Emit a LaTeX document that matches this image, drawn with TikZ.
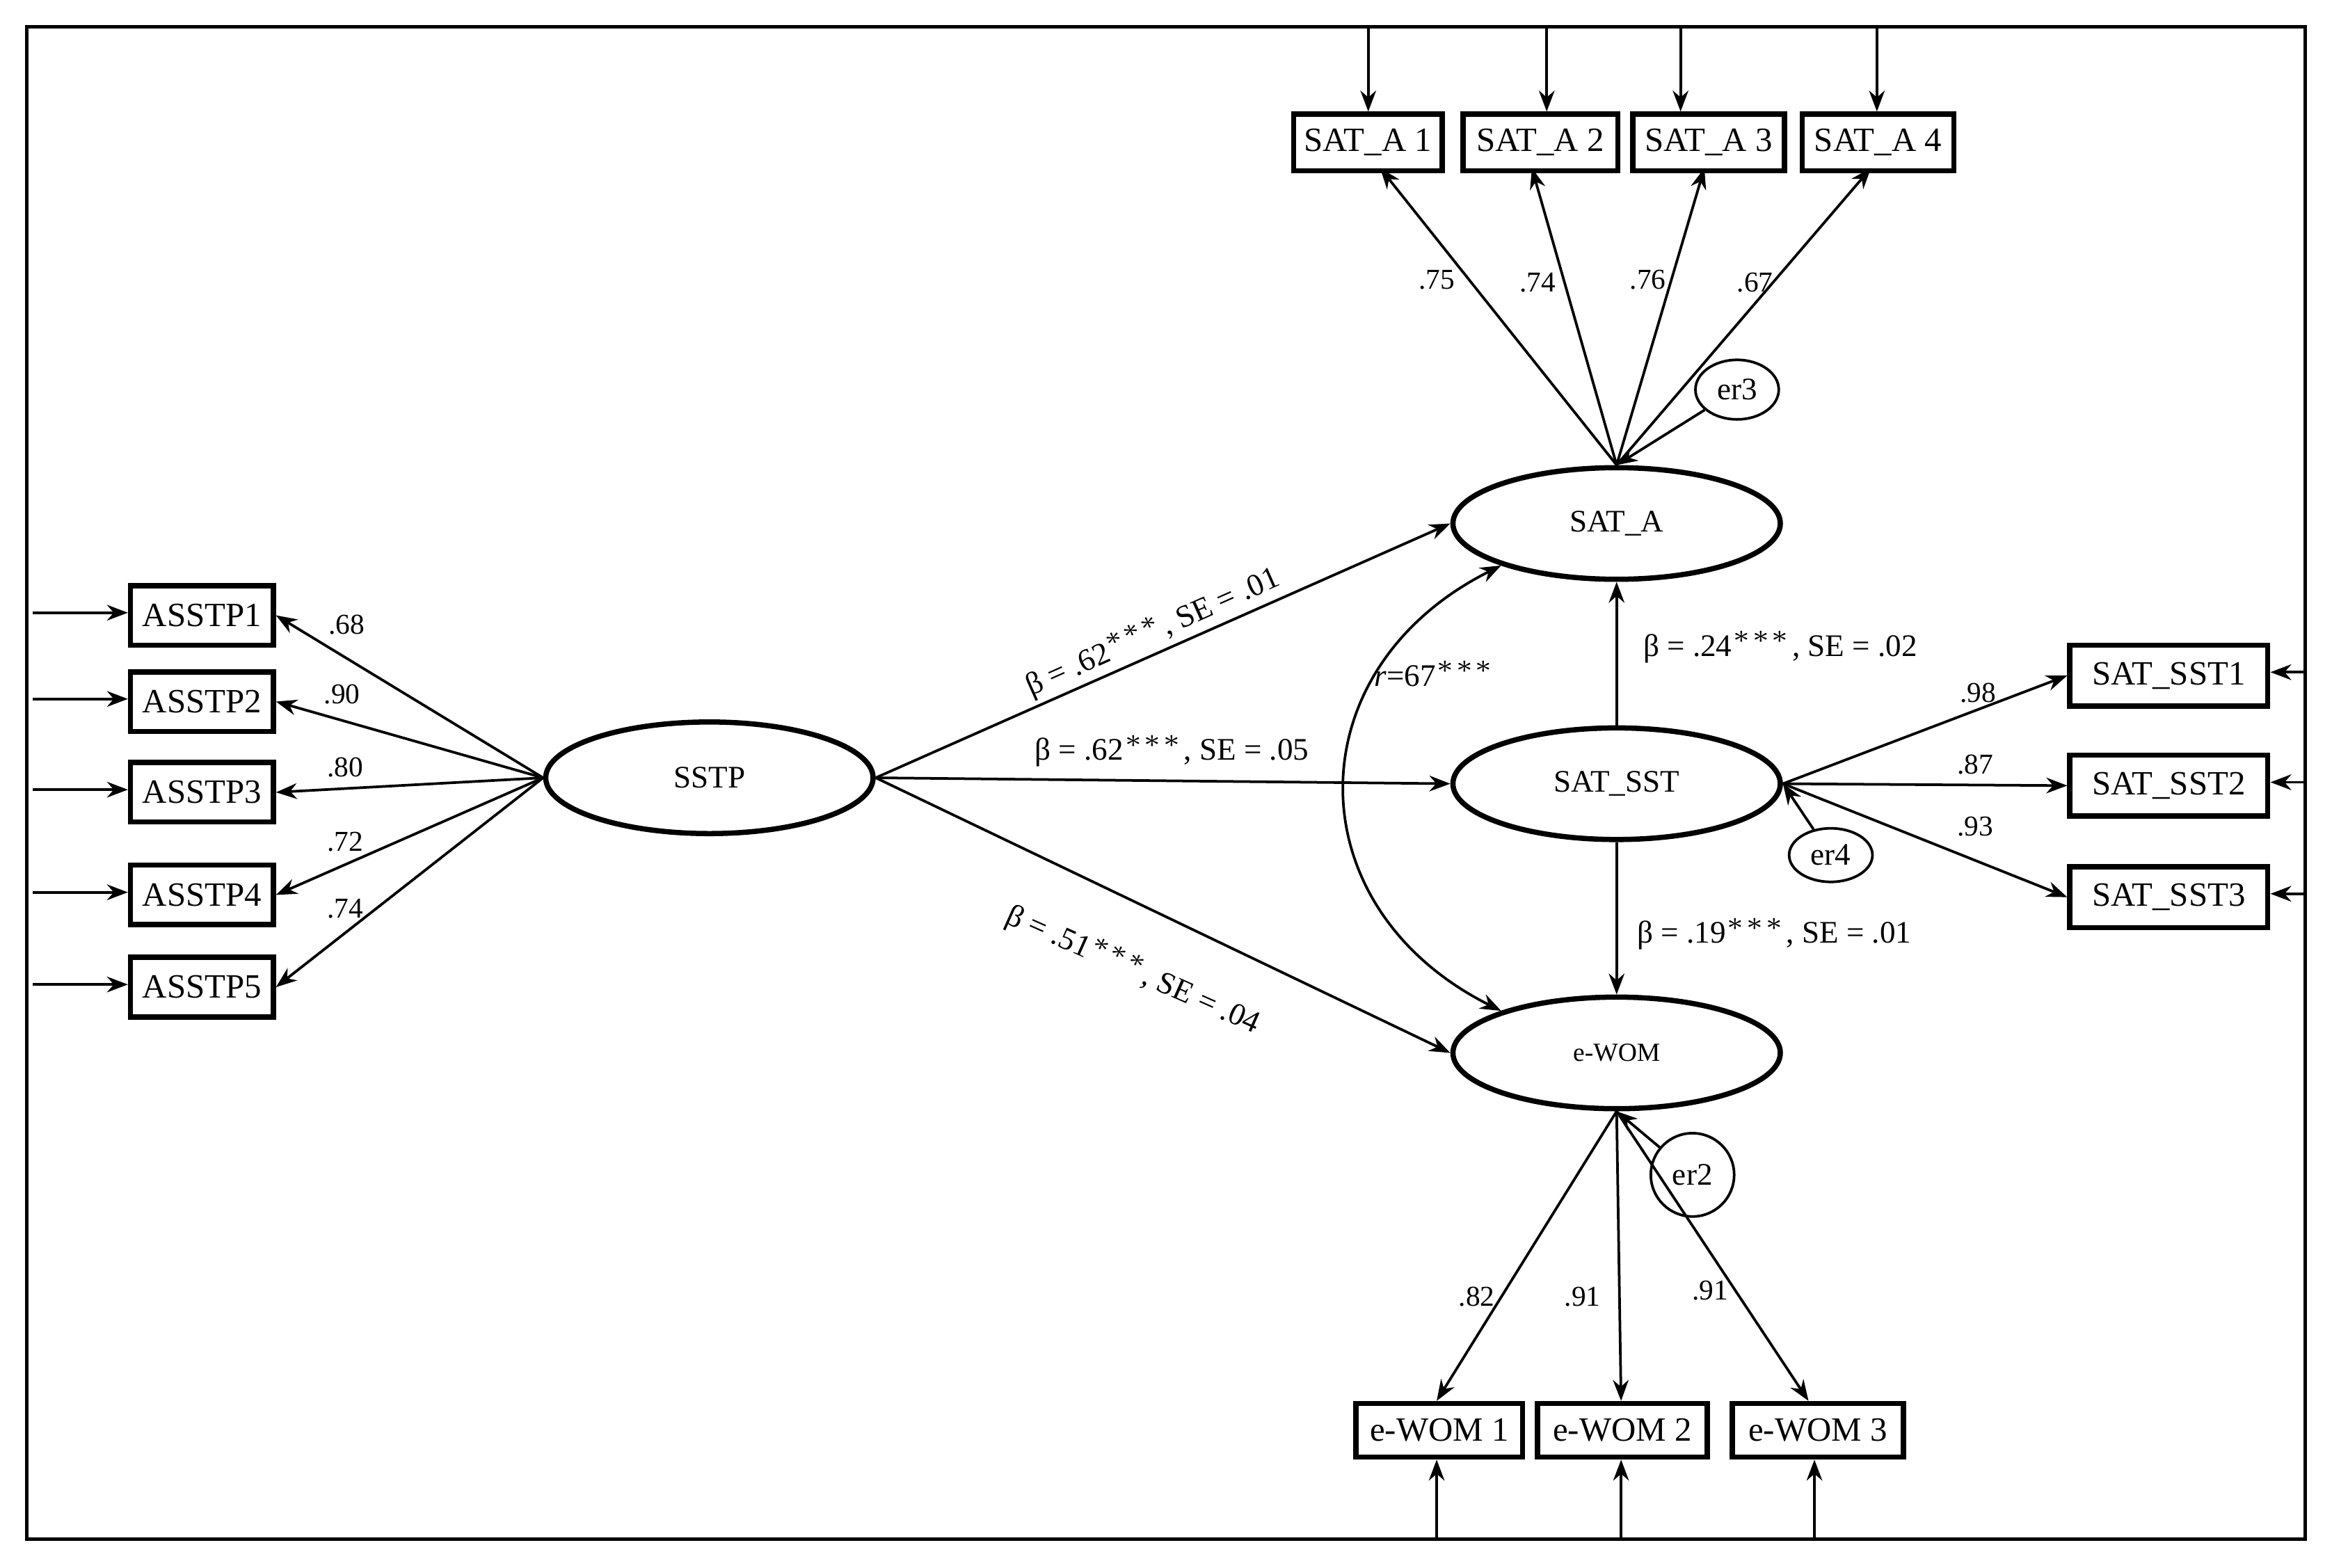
\documentclass[tikz,border=0pt]{standalone}
\usepackage{fontspec}
\setmainfont{Liberation Serif}
\usetikzlibrary{arrows.meta,shapes.geometric}
\begin{document}
\begin{tikzpicture}[x=0.01cm,y=-0.01cm,
 box/.style={draw,line width=1pt,minimum height=0.38cm,inner sep=1pt,font=\fontsize{6.5}{7}\selectfont,anchor=north west},
 lat/.style={draw,ellipse,line width=1pt,minimum width=2.2cm,minimum height=0.75cm,font=\fontsize{6}{7}\selectfont},
 err/.style={draw,ellipse,line width=0.5pt,font=\fontsize{6}{7}\selectfont,inner sep=0pt},
 ar/.style={-{Stealth[length=4pt,width=3pt]},line width=0.5pt},
 lab/.style={font=\fontsize{5.5}{6}\selectfont,inner sep=1pt}]
\useasboundingbox (0,0) rectangle (1568,1054);
\draw[line width=0.6pt] (18,18) rectangle (1550,1035);
% SAT_A boxes
\node[box,minimum width=1.0cm] (a1) at (868,75) {SAT\_A 1};
\node[box,minimum width=1.04cm] (a2) at (982,75) {SAT\_A 2};
\node[box,minimum width=1.02cm] (a3) at (1096,75) {SAT\_A 3};
\node[box,minimum width=1.02cm] (a4) at (1210,75) {SAT\_A 4};
\foreach \n/\x in {a1/920,a2/1040,a3/1130,a4/1262}{\coordinate (t\n) at (\x,18); \draw[ar] (t\n) -- (t\n |- \n.north);}
% ASSTP
\foreach \i/\y in {1/392,2/450,3/511,4/580,5/642}{
 \node[box,minimum width=0.96cm,minimum height=0.4cm] (p\i) at (86,\y) {ASSTP\i};
 \coordinate (lp\i) at (22,\y+20); \draw[ar] (lp\i) -- (p\i.west |- lp\i);}
% SAT_SST boxes
\foreach \i/\y in {1/432,2/506,3/581}{
 \node[box,minimum width=1.33cm,minimum height=0.41cm] (s\i) at (1390,\y) {SAT\_SST\i};
 \coordinate (rs\i) at (1550,\y+20); \draw[ar] (rs\i) -- (s\i.east |- rs\i);}
% eWOM boxes
\node[box,minimum width=1.12cm,minimum height=0.36cm] (w1) at (910,942) {e-WOM 1};
\node[box,minimum width=1.14cm,minimum height=0.36cm] (w2) at (1032,942) {e-WOM 2};
\node[box,minimum width=1.15cm,minimum height=0.36cm] (w3) at (1163,942) {e-WOM 3};
\foreach \n/\x in {w1/966,w2/1090,w3/1220}{\coordinate (b\n) at (\x,1035); \draw[ar] (b\n) -- (b\n |- \n.south);}
% latents
\node[lat] (SA) at (1087,352) {SAT\_A};
\node[lat] (SS) at (1087,527) {SAT\_SST};
\node[lat] (EW) at (1087,708) {\fontsize{5}{6}\selectfont e-WOM};
\node[lat] (SP) at (477,523) {SSTP};
% errors
\node[err,minimum width=0.56cm,minimum height=0.4cm] (e3) at (1168,262) {er3};
\node[err,minimum width=0.56cm,minimum height=0.36cm] (e4) at (1231,575) {er4};
\node[err,circle,minimum size=0.56cm] (e2) at (1138,790) {er2};
\draw[ar] (e3) -- (SA.north);
\draw[ar] (e4) -- (SS.east);
\draw[ar] (e2) -- (EW.south);
% loadings SAT_A
\foreach \n/\x in {a1/928,a2/1030,a3/1146,a4/1258}{\draw[ar] (SA.north) -- (\x,113);}
\node[lab] at (966,188) {.75};\node[lab] at (1034,190) {.74};
\node[lab] at (1108,188) {.76};\node[lab] at (1180,190) {.67};
% loadings SSTP
\foreach \i in {1,...,5}{\draw[ar] (SP.west) -- (p\i.east);}
\node[lab] at (233,420) {.68};\node[lab] at (230,467) {.90};
\node[lab] at (232,516) {.80};\node[lab] at (232,566) {.72};\node[lab] at (232,611) {.74};
% loadings SAT_SST
\foreach \i in {1,2,3}{\draw[ar] (SS.east) -- (s\i.west);}
\node[lab] at (1330,466) {.98};\node[lab] at (1328,514) {.87};\node[lab] at (1328,556) {.93};
% loadings eWOM
\draw[ar] (EW.south) -- (966,942);\draw[ar] (EW.south) -- (1090,942);\draw[ar] (EW.south) -- (1216,942);
\node[lab] at (993,872) {.82};\node[lab] at (1064,872) {.91};\node[lab] at (1150,868) {.91};
% structural
\draw[ar] (SP.east) -- (SA.west);
\draw[ar] (SP.east) -- (SS.west);
\draw[ar] (SP.east) -- (EW.west);
\node[lab,font=\fontsize{6}{7}\selectfont,rotate=24] at (775,425) {β = .62$^{***}$, SE = .01};
\node[lab,font=\fontsize{6}{7}\selectfont] at (788,505) {β = .62$^{***}$, SE = .05};
\node[lab,font=\fontsize{6}{7}\selectfont,rotate=-24] at (762,652) {β = .51$^{***}$, SE = .04};
\draw[ar] (SS.north) -- (SA.south);
\draw[ar] (SS.south) -- (EW.north);
\node[lab,font=\fontsize{6}{7}\selectfont] at (1197,435) {β = .24$^{***}$, SE = .02};
\node[lab,font=\fontsize{6}{7}\selectfont] at (1193,628) {β = .19$^{***}$, SE = .01};
\draw[{Stealth[length=4pt,width=3pt]}-{Stealth[length=4pt,width=3pt]},line width=0.5pt] (SA.200) .. controls (870,450) and (870,610) .. (EW.160);
\node[lab,font=\fontsize{6}{7}\selectfont] at (965,453) {\textit{r}=67$^{***}$};
\end{tikzpicture}
\end{document}
